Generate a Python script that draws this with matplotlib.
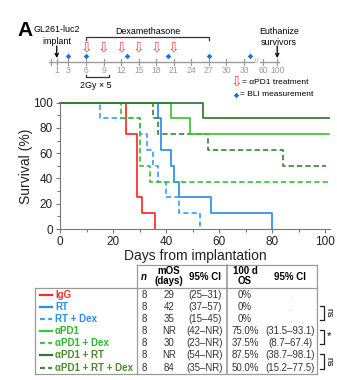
import matplotlib.pyplot as plt

plt.rcParams['font.family'] = ['Liberation Sans', 'DejaVu Sans']

# ---- survival curves (days, % surviving) ----
igg_t = [0, 25, 29, 31, 36]
igg_s = [100, 75, 25, 12.5, 0]
rt_t = [0, 37, 38, 42, 43, 45, 57, 80]
rt_s = [100, 87.5, 62.5, 50, 37.5, 25, 12.5, 0]
rtdex_t = [0, 15, 30, 33, 35, 37, 40, 45, 53]
rtdex_s = [100, 87.5, 75, 62.5, 50, 37.5, 25, 12.5, 0]
pd1_t = [0, 42, 49, 101.5]
pd1_s = [100, 87.5, 75, 75]
pd1dex_t = [0, 23, 30, 34, 101.5]
pd1dex_s = [100, 87.5, 50, 37.5, 37.5]
pd1rt_t = [0, 54, 101.5]
pd1rt_s = [100, 87.5, 87.5]
pd1rtdex_t = [0, 35, 37, 56, 84, 100.5]
pd1rtdex_s = [100, 87.5, 75, 62.5, 50, 50]

# ---- table ----
groups = ['IgG', 'RT', 'RT + Dex', 'αPD1', 'αPD1 + Dex', 'αPD1 + RT', 'αPD1 + RT + Dex']
n_mice = [8, 8, 8, 8, 8, 8, 8]
mos = ['29', '42', '35', 'NR', '30', 'NR', '84']
mos_ci = ['(25–31)', '(37–57)', '(15–45)', '(42–NR)', '(23–NR)', '(54–NR)', '(35–NR)']
os100 = ['0%', '0%', '0%', '75.0%', '37.5%', '87.5%', '50.0%']
os100_ci = ['.', '.', '.', '(31.5–93.1)', '(8.7–67.4)', '(38.7–98.1)', '(15.2–77.5)']
sig_pairs = [(1, 2, 'ns'), (3, 4, '*'), (5, 6, 'ns')]

# ---- timeline ----
tl_ticks = [1, 3, 6, 9, 12, 15, 18, 21, 24, 27, 30, 33, 60, 100]
apd1_days = [6, 9, 12, 15, 18, 21]
bli_days = [3, 6, 13, 20, 27, 34]
dex_days = (6, 27)
rt_days = (6, 10)

red = '#ff2b2b'
blue = '#2b8cf0'
blue2 = '#3fa0f5'
green = '#3cc43c'
dgreen = '#2f7a2f'
dgreen2 = '#3a8a34'
lab_green = '#2fb52f'
lab_dgreen = '#4a8c2c'

curves = [
    (igg_t, igg_s, red, '-'),
    (rt_t, rt_s, blue, '-'),
    (rtdex_t, rtdex_s, blue2, '--'),
    (pd1dex_t, pd1dex_s, green, '--'),
    (pd1rtdex_t, pd1rtdex_s, dgreen2, '--'),
    (pd1_t, pd1_s, green, '-'),
    (pd1rt_t, pd1rt_s, dgreen, '-'),
]
row_colors = [red, blue, blue2, green, green, dgreen, dgreen2]
row_styles = ['-', '-', '--', '-', '--', '-', '--']
label_colors = [red, blue, blue, lab_green, lab_green, lab_dgreen, lab_dgreen]

W, H = 337, 380
fig = plt.figure(figsize=(W / 100, H / 100), dpi=100)

# main Kaplan-Meier axes
ax = fig.add_axes([60 / W, 1 - 229 / H, 270.3 / W, 126.3 / H])
for t, s, c, ls in curves:
    ax.step(t, s, where='post', color=c, ls=ls, lw=1.25, clip_on=False,
            dashes=(3, 1.8) if ls == '--' else (None, None))
ax.set_xlim(0, 102)
ax.set_ylim(0, 100)
ax.set_xticks(range(0, 101, 20))
ax.set_xticks(range(0, 101, 10), minor=True)
ax.set_yticks(range(0, 101, 20))
ax.set_yticks(range(0, 101, 10), minor=True)
for side in ['top', 'right']:
    ax.spines[side].set_visible(False)
for side in ['left', 'bottom']:
    ax.spines[side].set_color('#777777')
    ax.spines[side].set_linewidth(0.8)
ax.tick_params(which='both', direction='out', color='#777777', width=0.8,
               labelsize=8.5, labelcolor='#222222', pad=2)
ax.tick_params(which='major', length=3)
ax.tick_params(which='minor', length=2)
ax.set_xlabel('Days from implantation', fontsize=10, labelpad=1, color='#222222')
ax.set_ylabel('Survival (%)', fontsize=10, labelpad=0, color='#222222')

# overlay in pixel coordinates for the timeline and table
ov = fig.add_axes([0, 0, 1, 1], zorder=-1)
ov.set_xlim(0, W)
ov.set_ylim(H, 0)
ov.axis('off')
ov.patch.set_alpha(0)


def tl(d):
    # broken timeline scale: linear to day 33, then compressed
    if d <= 34:
        return 50.9 + d * 5.85
    return {60: 263.3, 100: 277.2}[d]


gray = '#9a9a9a'
ly = 61.7
ov.plot([tl(0) - 1.5, 254], [ly, ly], color=gray, lw=1)
ov.plot([259.5, tl(100) + 1.5], [ly, ly], color=gray, lw=1)
ov.text(256.8, ly, '//', color=gray, fontsize=6, ha='center', va='center')
for d in [0] + tl_ticks:
    ov.plot([tl(d), tl(d)], [ly - 2.8, ly + 2.8], color=gray, lw=0.9)
for d in tl_ticks:
    ov.text(tl(d), 70.5, str(d), color=gray, fontsize=6.2, ha='center', va='center')

ov.text(17, 31, 'A', fontsize=15, fontweight='bold', ha='left', va='center')
ov.text(57, 29.5, 'GL261-luc2', fontsize=6.4, ha='center', va='center')
ov.text(57, 41.5, 'implant', fontsize=6.4, ha='center', va='center')
ov.annotate('', xy=(tl(1), 58), xytext=(tl(1), 46),
            arrowprops=dict(arrowstyle='->', color='black', lw=0.9,
                            mutation_scale=6, shrinkA=0, shrinkB=0))
ov.text(279, 31.5, 'Euthanize', fontsize=6.4, ha='center', va='center')
ov.text(279, 42.5, 'survivors', fontsize=6.4, ha='center', va='center')
ov.annotate('', xy=(tl(100), 58), xytext=(tl(100), 46),
            arrowprops=dict(arrowstyle='->', color='black', lw=0.9,
                            mutation_scale=6, shrinkA=0, shrinkB=0))

# dexamethasone bracket
x0, x1 = tl(dex_days[0]), tl(dex_days[1])
ov.plot([x0, x0, x1, x1], [40, 37.3, 37.3, 40], color='#333333', lw=0.9)
ov.text((x0 + x1) / 2, 31.5, 'Dexamethasone', fontsize=6.4, ha='center', va='center')

# radiation bracket
x0, x1 = tl(rt_days[0]), tl(rt_days[1])
ov.plot([x0, x0, x1, x1], [74.5, 77.3, 77.3, 74.5], color='#333333', lw=0.9)
ov.text((x0 + x1) / 2 - 2, 85, '2Gy × 5', fontsize=6.4, ha='center', va='center')

for d in apd1_days:
    ov.text(tl(d), 47, '⇩', color='#e84a4a', fontsize=10, ha='center', va='center',
            family='DejaVu Sans')
ov.plot([tl(d) for d in bli_days], [56] * len(bli_days), 'D', color='#1f6fd6',
        ms=2.8, mew=0, ls='none')

ov.text(236.5, 81.5, '⇩', color='#e84a4a', fontsize=10, ha='center', va='center',
        family='DejaVu Sans')
ov.text(242.5, 82, '= αPD1 treatment', fontsize=6, ha='left', va='center')
ov.plot([236], [95], 'D', color='#1f6fd6', ms=2.8, mew=0)
ov.text(240.5, 95, '= BLI measurement', fontsize=6, ha='left', va='center')

# ---- table ----
tc = '#9a9a9a'
top, hsep, bot = 265, 288.3, 374
xl, xa, xm, xr = 35, 136.7, 226.7, 316.7
ov.plot([xa, xr], [top, top], color=tc, lw=0.9)
ov.plot([xl, xr], [hsep, hsep], color=tc, lw=0.9)
ov.plot([xl, xr], [bot, bot], color=tc, lw=0.9)
ov.plot([xl, xl], [hsep, bot], color=tc, lw=0.9)
for x in [xa, xm, xr]:
    ov.plot([x, x], [top, bot], color=tc, lw=0.9 if x != xm else 1.2)

col_x = [144, 169, 205, 245, 290]
hy = 276.5
fs = 7
ov.text(col_x[0], hy, 'n', fontsize=fs, fontweight='bold', style='italic',
        ha='center', va='center')
ov.text(col_x[1], hy, 'mOS\n(days)', fontsize=fs, fontweight='bold', ha='center',
        va='center', linespacing=1.0)
ov.text(col_x[2], hy, '95% CI', fontsize=fs, fontweight='bold', ha='center', va='center')
ov.text(col_x[3], hy, '100 d\nOS', fontsize=fs, fontweight='bold', ha='center',
        va='center', linespacing=1.0)
ov.text(col_x[4], hy, '95% CI', fontsize=fs, fontweight='bold', ha='center', va='center')

row_y = [294.5 + 12.17 * i for i in range(len(groups))]
tx = '#333333'
for i, g in enumerate(groups):
    y = row_y[i]
    ov.plot([40, 51.5], [y, y], color=row_colors[i], lw=1.6, ls=row_styles[i],
            dashes=(2.2, 1.5) if row_styles[i] == '--' else (None, None))
    ov.text(55, y, g, color=label_colors[i], fontsize=fs, fontweight='bold',
            ha='left', va='center')
    ov.text(col_x[0], y, str(n_mice[i]), fontsize=fs, color=tx, ha='center', va='center')
    ov.text(col_x[1], y, mos[i], fontsize=fs, color=tx, ha='center', va='center')
    ov.text(col_x[2], y, mos_ci[i], fontsize=fs, color=tx, ha='center', va='center')
    ov.text(col_x[3], y, os100[i], fontsize=fs, color=tx, ha='center', va='center')
    ov.text(col_x[4], y, os100_ci[i], fontsize=fs,
            color=tx if os100_ci[i] != '.' else '#bbbbbb', ha='center', va='center')

for a, b, lab in sig_pairs:
    y0, y1 = row_y[a] - 1, row_y[b] + 1
    ov.plot([319.5, 324, 324, 319.5], [y0, y0, y1, y1], color='#222222', lw=0.9)
    if lab == 'ns':
        ov.text(328.5, (y0 + y1) / 2, lab, fontsize=6.5, rotation=270,
                ha='center', va='center')
    else:
        ov.text(329, (y0 + y1) / 2 - 1, lab, fontsize=8, ha='center', va='center')

fig.savefig('out.png', dpi=100)
